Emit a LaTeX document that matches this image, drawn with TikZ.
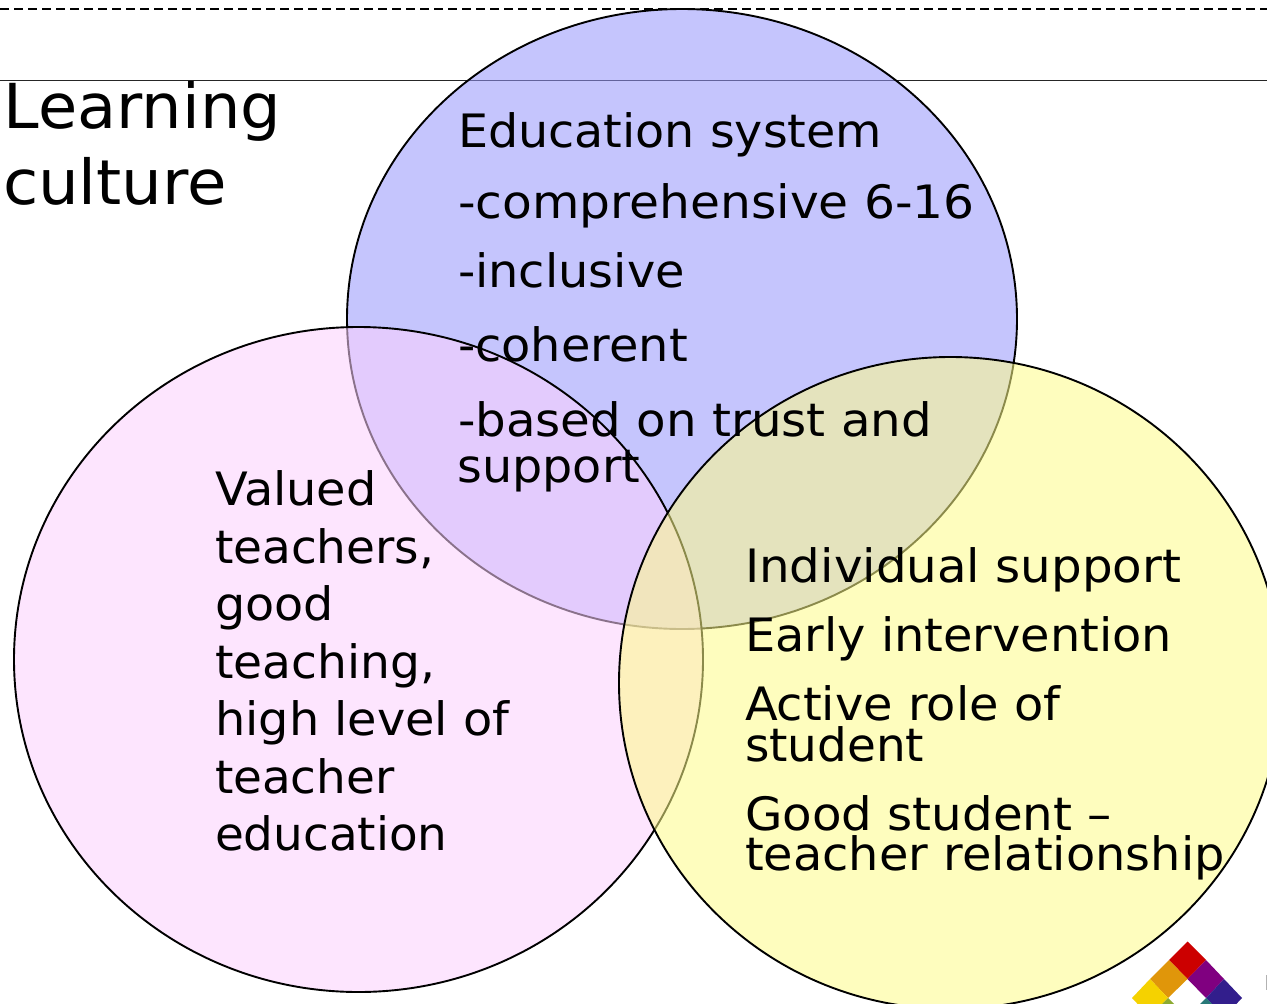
\documentclass[tikz,border=0pt]{standalone}
\usepackage{fontspec}
\setmainfont[FakeStretch=1.04]{DejaVu Sans}
\definecolor{blueC}{RGB}{150,150,253}
\definecolor{pinkC}{RGB}{252,208,254}
\definecolor{yellowC}{RGB}{254,252,137}
\definecolor{logoR}{RGB}{204,0,0}
\definecolor{logoO}{RGB}{224,150,10}
\definecolor{logoY}{RGB}{245,210,0}
\definecolor{logoP}{RGB}{128,0,128}
\definecolor{logoB}{RGB}{50,30,140}
\definecolor{logoG}{RGB}{140,170,50}
\definecolor{logoT}{RGB}{40,120,120}
\tikzset{x=1pt,y=-1pt,
  circ/.style={draw=black,line width=1.9pt,fill opacity=.55},
  lab/.style={anchor=base west,inner sep=0pt,outer sep=0pt,font=\fontsize{46}{46}\selectfont},
  big/.style={anchor=base west,inner sep=0pt,outer sep=0pt,font=\fontsize{62}{62}\selectfont},
  wide/.style={xscale=#1,transform shape}}
\begin{document}
\begin{tikzpicture}
\useasboundingbox (0,0) rectangle (1267,1004);
\fill[white] (0,0) rectangle (1267,1004);
\begin{scope}
\clip (0,0) rectangle (1267,1004);
\coordinate (dl) at (0,9); \coordinate (dr) at (1267,9);
\coordinate (sl) at (0,80.5); \coordinate (sr) at (1267,80.5);
\draw[line width=1.3pt,dash pattern=on 9pt off 5pt] (dl) -- (dr);
\draw[line width=1pt,black!85] (sl) -- (sr);
\draw[circ,fill=blueC] (682,319) ellipse [x radius=335pt,y radius=310pt];
\draw[circ,fill=pinkC] (358.5,659.5) ellipse [x radius=344.5pt,y radius=332.5pt];
\draw[circ,fill=yellowC] (950.5,683) ellipse [x radius=331.5pt,y radius=326pt];
% logo
\fill[logoR,line join=round] (1187.5,941.5) -- (1206,960) -- (1187.5,979) -- (1169,960) -- cycle;
\fill[logoO] (1169,960) -- (1187.5,979) -- (1168,998) -- (1150,979) -- cycle;
\fill[logoY] (1150,979) -- (1168,998) -- (1150,1017) -- (1132,998) -- cycle;
\fill[logoP] (1206,960) -- (1224,979) -- (1206,998) -- (1187.5,979) -- cycle;
\fill[logoB] (1224,979) -- (1242,998) -- (1224,1017) -- (1206,998) -- cycle;
\fill[logoG] (1168,998) -- (1176,1006) -- (1160,1006) -- cycle;
\fill[logoT] (1206,998) -- (1214,1006) -- (1198,1006) -- cycle;
\fill[black!30] (1265.5,975) rectangle (1267,990);
\end{scope}
\node[big,wide=.99] (t1) at (4,128) {Learning};
\node[big,wide=.995] (t2) at (3,204) {culture};
\node[lab,wide=.995] (b1) at (458,147) {Education system};
\node[lab,wide=1.018] (b2) at (458,218) {-comprehensive 6-16};
\node[lab] (b3) at (458,287) {-inclusive};
\node[lab] (b4) at (458,361) {-coherent};
\node[lab,wide=1.01] (b5) at (458,436) {-based on trust and};
\node[lab,wide=.995] (b6) at (457.5,482) {support};
\node[lab] (p1) at (215,505) {Valued};
\node[lab,wide=.982] (p2) at (215,563) {teachers,};
\node[lab,wide=.995] (p3) at (215,620) {good};
\node[lab,wide=.985] (p4) at (215,678) {teaching,};
\node[lab] (p5) at (215,735) {high level of};
\node[lab,wide=.98] (p6) at (215,793) {teacher};
\node[lab,wide=.98] (p7) at (215,850) {education};
\node[lab,wide=1.01] (y1) at (745,582) {Individual support};
\node[lab] (y2) at (745,651) {Early intervention};
\node[lab] (y3) at (745,720) {Active role of};
\node[lab,wide=.98] (y4) at (745,761) {student};
\node[lab,wide=1.01] (y5) at (745,830) {Good student –};
\node[lab] (y6) at (745,870) {teacher relationship};
\end{tikzpicture}
\end{document}
